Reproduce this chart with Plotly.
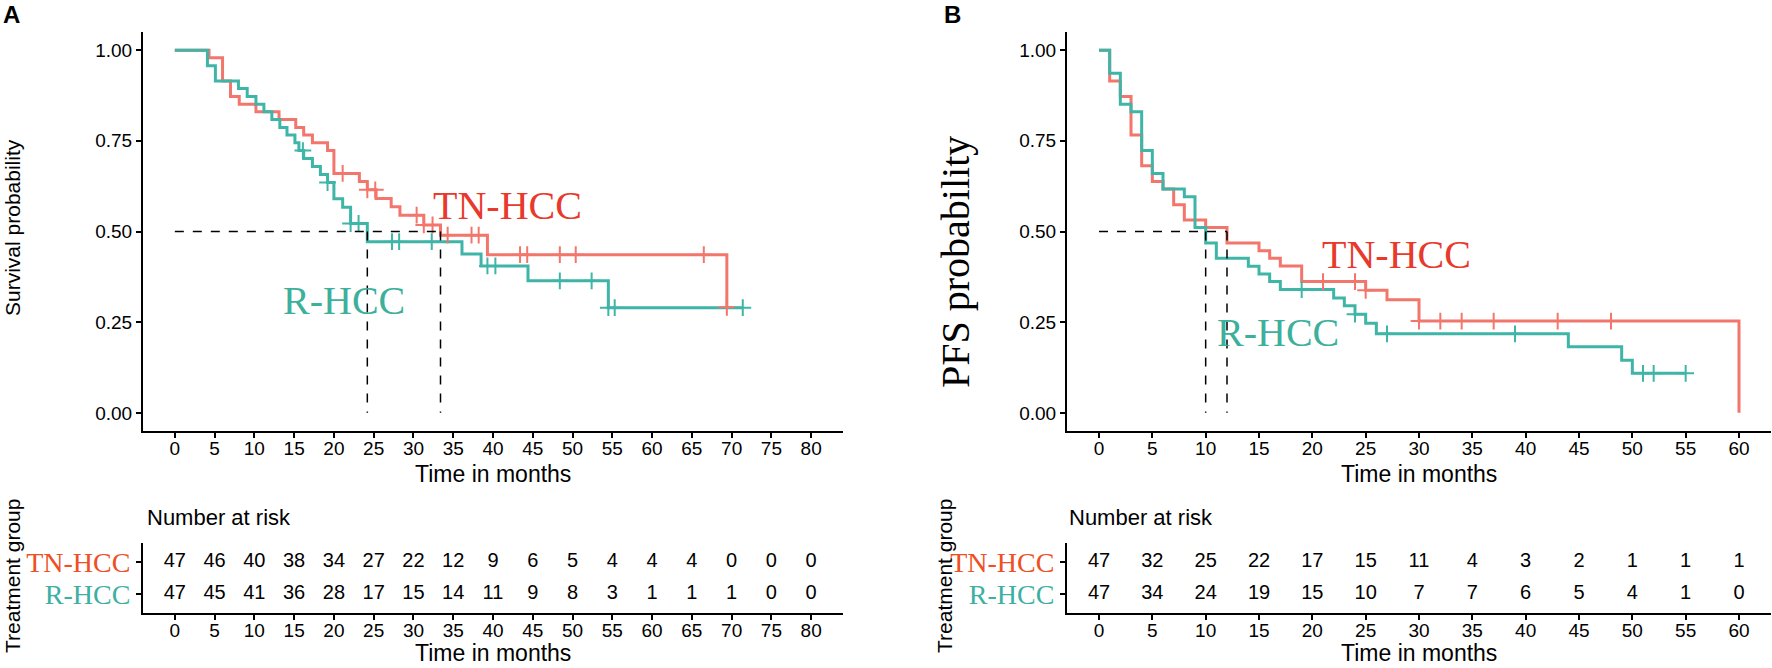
import plotly.graph_objects as go

W, H = 1772, 668

# ---- A: overall survival (months, survival probability) ----
a_tn_time = [0, 4.3, 6.0, 7.0, 8.1, 10.2, 13.1, 15.2, 16.2, 17.3, 19.2, 20.0, 23.2, 24.2,
             25.3, 27.2, 28.3, 31.3, 33.4, 39.3, 69.4]
a_tn_surv = [1.0, 0.979, 0.915, 0.872, 0.851, 0.830, 0.809, 0.787, 0.766, 0.745, 0.723, 0.660,
             0.638, 0.615, 0.591, 0.568, 0.545, 0.518, 0.490, 0.436, 0.291]
a_tn_cens = [21.1, 24.2, 25.2, 30.4, 31.3, 32.4, 34.3, 37.3, 38.2, 43.4, 44.3, 48.4, 50.4, 66.5, 69.4]
a_tn_end = 69.4

a_r_time = [0, 4.1, 5.1, 8.0, 9.1, 10.2, 11.2, 12.2, 13.2, 14.1, 15.1, 15.6, 16.2, 17.3, 18.3,
            19.2, 20.0, 21.1, 22.1, 24.2, 36.1, 38.5, 44.4, 54.5]
a_r_surv = [1.0, 0.957, 0.915, 0.894, 0.872, 0.851, 0.830, 0.809, 0.787, 0.766, 0.745, 0.723,
            0.701, 0.679, 0.657, 0.635, 0.590, 0.567, 0.522, 0.472, 0.438, 0.405, 0.364, 0.290]
a_r_cens = [16.1, 19.2, 22.1, 23.1, 27.3, 28.2, 32.3, 39.3, 40.3, 48.4, 52.4, 54.5, 55.3, 71.4]
a_r_end = 71.4

a_median = [24.2, 33.4]
a_risk_time = list(range(0, 81, 5))
a_risk_tn = [47, 46, 40, 38, 34, 27, 22, 12, 9, 6, 5, 4, 4, 4, 0, 0, 0]
a_risk_r = [47, 45, 41, 36, 28, 17, 15, 14, 11, 9, 8, 3, 1, 1, 1, 0, 0]

# ---- B: progression-free survival ----
b_tn_time = [0, 1, 2, 3, 4, 5, 6, 7, 8, 10, 12, 15, 16, 17, 19, 25, 27, 30, 60]
b_tn_surv = [1.0, 0.915, 0.872, 0.766, 0.681, 0.638, 0.617, 0.574, 0.532, 0.511, 0.468, 0.447,
             0.426, 0.405, 0.362, 0.338, 0.312, 0.253, 0.0]
b_tn_cens = [21, 24, 25, 30, 32, 34, 37, 43, 48]
b_tn_end = 60

b_r_time = [0, 1, 2, 3, 4, 5, 6, 8, 9, 10, 11, 14, 15, 16, 17, 22, 23, 24, 25, 26, 44, 49, 50]
b_r_surv = [1.0, 0.936, 0.851, 0.830, 0.723, 0.660, 0.617, 0.596, 0.511, 0.468, 0.426, 0.404,
            0.383, 0.362, 0.340, 0.317, 0.295, 0.272, 0.247, 0.218, 0.182, 0.145, 0.109]
b_r_cens = [19, 24, 27, 39, 51, 52, 55]
b_r_end = 55

b_median = [10, 12]
b_risk_time = list(range(0, 61, 5))
b_risk_tn = [47, 32, 25, 22, 17, 15, 11, 4, 3, 2, 1, 1, 1]
b_risk_r = [47, 34, 24, 19, 15, 10, 7, 7, 6, 5, 4, 1, 0]

SANS = "Liberation Sans, Arial, sans-serif"
SERIF = "Liberation Serif, Times New Roman, serif"
RED, TEAL = "#F3766C", "#3FB5A8"
RED_TXT, TEAL_TXT = "#E8392C", "#3DB09C"
RED_ROW, TEAL_ROW = "#EE4F24", "#3DAFA3"


def surv_at(times, surv, t):
    s = surv[0]
    for ti, si in zip(times, surv):
        if ti <= t:
            s = si
    return s


def add_panel(fig, xa, ya, xr, yr, tn, r, median, risk_time, risk_tn, risk_r):
    # curves: red first, teal on top, then censor marks
    for (times, surv, cens, end), col in ((tn, RED), (r, TEAL)):
        fig.add_trace(go.Scatter(
            x=times + [end], y=surv + [surv[-1]], mode="lines", line_shape="hv",
            line=dict(color=col, width=3), xaxis=xa, yaxis=ya, hoverinfo="skip"))
    for (times, surv, cens, end), col in ((tn, RED), (r, TEAL)):
        fig.add_trace(go.Scatter(
            x=cens, y=[surv_at(times, surv, c) for c in cens], mode="markers",
            marker=dict(symbol="cross-thin", size=12, line=dict(color=col, width=2)),
            xaxis=xa, yaxis=ya, hoverinfo="skip"))
    # median lines
    mx, my = [0, max(median), None], [0.5, 0.5, None]
    for m in median:
        mx += [m, m, None]
        my += [0.5, 0, None]
    fig.add_trace(go.Scatter(x=mx, y=my, mode="lines",
                             line=dict(color="black", width=1.5, dash="dash"),
                             xaxis=xa, yaxis=ya, hoverinfo="skip"))
    # number at risk
    for vals, row in ((risk_tn, 2), (risk_r, 1)):
        fig.add_trace(go.Scatter(
            x=risk_time, y=[row] * len(risk_time), mode="text",
            text=[str(v) for v in vals],
            textfont=dict(family=SANS, size=20, color="black"),
            xaxis=xr, yaxis=yr, hoverinfo="skip", cliponaxis=False))


fig = go.Figure()
add_panel(fig, "x", "y", "x3", "y3",
          (a_tn_time, a_tn_surv, a_tn_cens, a_tn_end),
          (a_r_time, a_r_surv, a_r_cens, a_r_end),
          a_median, a_risk_time, a_risk_tn, a_risk_r)
add_panel(fig, "x2", "y2", "x4", "y4",
          (b_tn_time, b_tn_surv, b_tn_cens, b_tn_end),
          (b_r_time, b_r_surv, b_r_cens, b_r_end),
          b_median, b_risk_time, b_risk_tn, b_risk_r)

ax = dict(showline=True, linecolor="black", linewidth=2, ticks="outside", ticklen=5,
          tickwidth=1.5, tickcolor="black", showgrid=False, zeroline=False,
          tickfont=dict(family=SANS, size=19, color="black"), automargin=False,
          fixedrange=True)
xax = dict(ax, ticklabelstandoff=-6)

dom_a = [143 / W, 843 / W]
dom_b = [1067 / W, 1771 / W]
dom_main = [1 - 431 / H, 1 - 32 / H]
dom_risk = [1 - 613 / H, 1 - 543 / H]
row_text = [f"<span style='color:{RED_ROW}'>TN-HCC</span>",
            f"<span style='color:{TEAL_ROW}'>R-HCC</span>"]
yprob = dict(range=[-0.05, 1.05], tickvals=[0, 0.25, 0.5, 0.75, 1],
             ticktext=["0.00", "0.25", "0.50", "0.75", "1.00"], domain=dom_main)
yrisk = dict(range=[0.4, 2.6], tickvals=[2, 1], ticktext=row_text, domain=dom_risk)

fig.update_layout(
    width=W, height=H, template="none", showlegend=False,
    margin=dict(l=0, r=0, t=0, b=0),
    paper_bgcolor="white", plot_bgcolor="white",
    xaxis=dict(xax, domain=dom_a, range=[-4, 84], tickvals=a_risk_time, anchor="y"),
    yaxis=dict(ax, **yprob, anchor="x"),
    xaxis2=dict(xax, domain=dom_b, range=[-3, 63], tickvals=b_risk_time, anchor="y2"),
    yaxis2=dict(ax, **yprob, anchor="x2"),
    xaxis3=dict(xax, domain=dom_a, range=[-4, 84], tickvals=a_risk_time, anchor="y3"),
    yaxis3=dict(ax, **yrisk, anchor="x3"),
    xaxis4=dict(xax, domain=dom_b, range=[-3, 63], tickvals=b_risk_time, anchor="y4"),
    yaxis4=dict(ax, **yrisk, anchor="x4"),
)
fig.update_yaxes(tickfont=dict(family=SERIF, size=28), selector=dict(anchor="x3"))
fig.update_yaxes(tickfont=dict(family=SERIF, size=28), selector=dict(anchor="x4"))


def note(text, x, y, size=22, family=SANS, color="black", angle=0, xanchor="center"):
    fig.add_annotation(text=text, x=x / W, y=1 - y / H, xref="paper", yref="paper",
                       showarrow=False, textangle=angle, xanchor=xanchor, yanchor="middle",
                       font=dict(family=family, size=size, color=color))


note("<b>A</b>", 11, 15, size=24)
note("<b>B</b>", 952, 15, size=24)
note("Survival probability", 12, 228, size=21, angle=-90)
note("PFS probability", 955, 262, size=40, family=SERIF, angle=-90)
for cx in (493, 1419):
    note("Time in months", cx, 474, size=23)
    note("Time in months", cx, 653, size=23)
note("Number at risk", 145, 517, xanchor="left")
note("Number at risk", 1067, 517, xanchor="left")
note("Treatment group", 12, 576, size=21, angle=-90)
note("Treatment group", 944, 576, size=21, angle=-90)

# group labels inside the plots (data coordinates)
for xa, ya, tx, ty, rx, ry in (("x", "y", 32.2, 0.572, 13.4, 0.309),
                               ("x2", "y2", 20.7, 0.437, 10.9, 0.222)):
    fig.add_annotation(text="TN-HCC", x=tx, y=ty, xref=xa, yref=ya, showarrow=False,
                       xanchor="left", yanchor="middle",
                       font=dict(family=SERIF, size=40, color=RED_TXT))
    fig.add_annotation(text="R-HCC", x=rx, y=ry, xref=xa, yref=ya, showarrow=False,
                       xanchor="left", yanchor="middle",
                       font=dict(family=SERIF, size=40, color=TEAL_TXT))

# page body has a default 8px margin; remove it so the figure sits at the window origin
fig.write_html("out.html", config={"displayModeBar": False},
               post_script="document.body.style.margin='0px';")
